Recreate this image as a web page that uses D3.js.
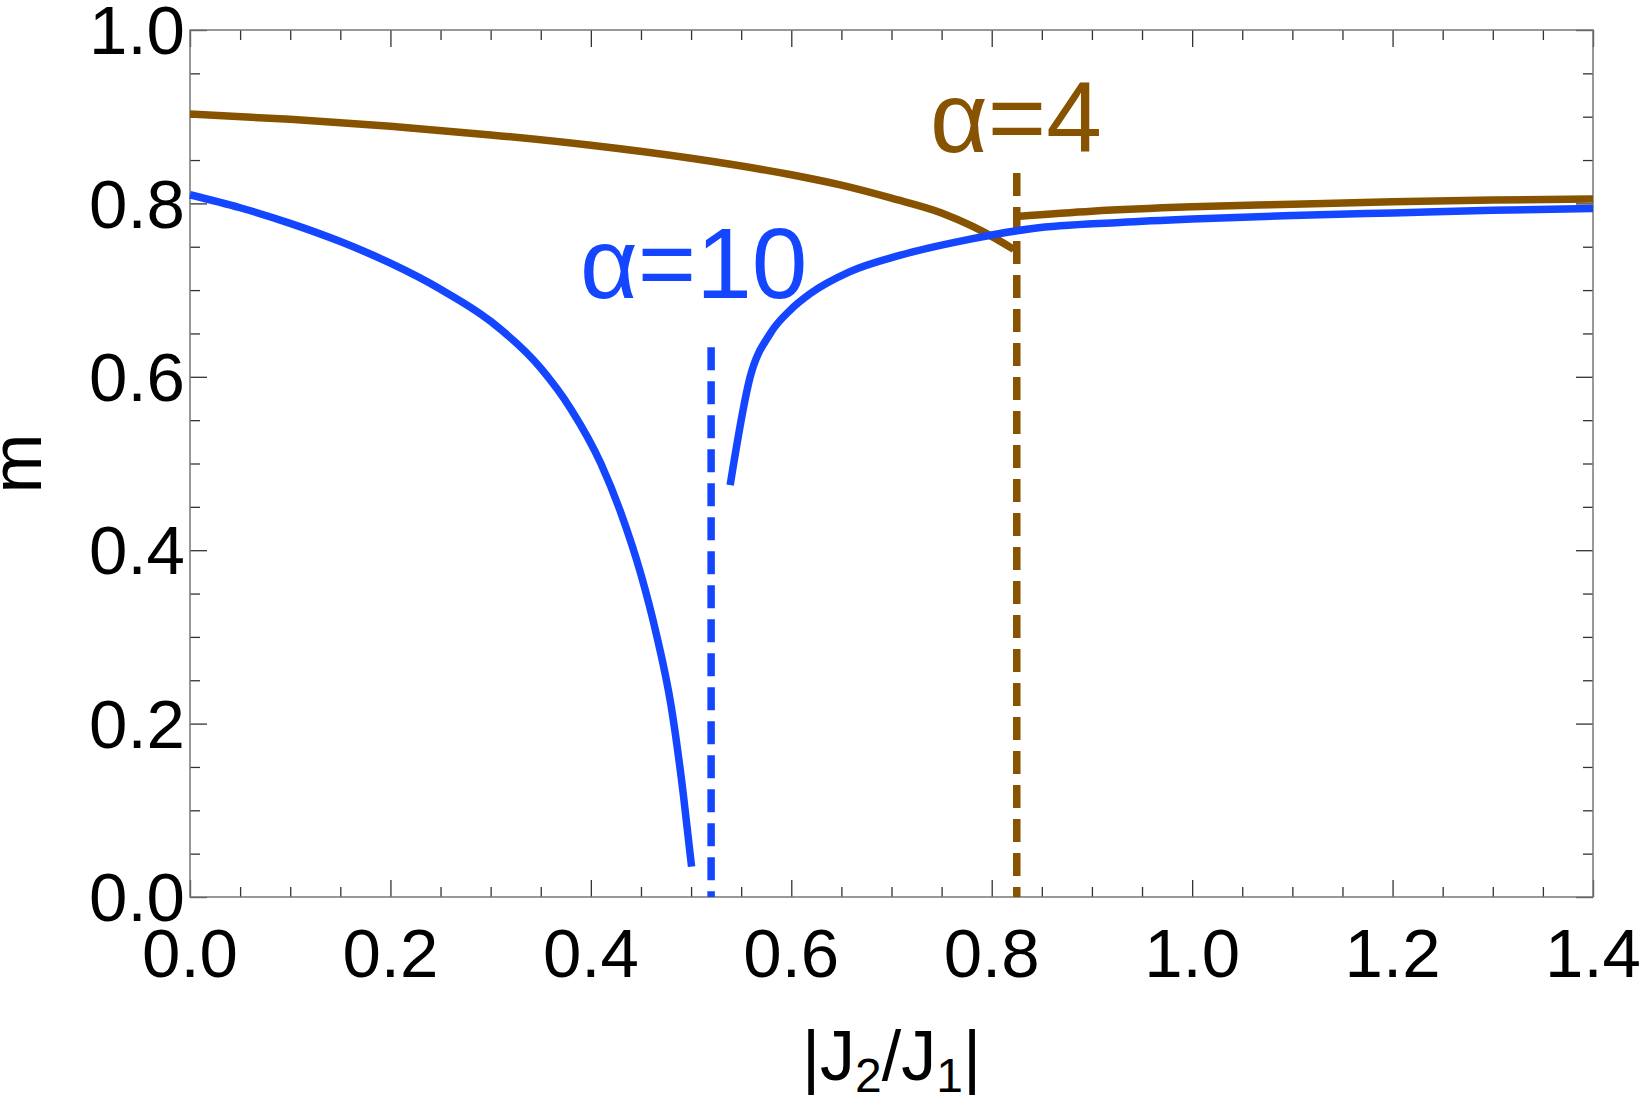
<!DOCTYPE html>
<html>
<head>
<meta charset="utf-8">
<script src="https://cdn.jsdelivr.net/npm/d3@7"></script>
<style>
  body { margin: 0; background: #fff; }
  text { font-family: "Liberation Sans", Arial, sans-serif; }
</style>
</head>
<body>
<script>
// data
var xMajor = [0, 0.2, 0.4, 0.6, 0.8, 1.0, 1.2, 1.4];
var yMajor = [0, 0.2, 0.4, 0.6, 0.8, 1.0];

// alpha = 4 (brown)
var a4LeftX  = [0, 0.1, 0.2, 0.3, 0.4, 0.5, 0.6, 0.65, 0.7, 0.75, 0.78, 0.8, 0.822];
var a4LeftM  = [0.903, 0.897, 0.889, 0.879, 0.867, 0.852, 0.833, 0.821, 0.806, 0.789, 0.774, 0.762, 0.747];
var a4RightX = [0.825, 0.9, 1.0, 1.1, 1.2, 1.3, 1.4];
var a4RightM = [0.785, 0.791, 0.796, 0.799, 0.802, 0.804, 0.805];
var a4Crit = 0.825, a4DashTop = 0.835;

// alpha = 10 (blue)
var a10LeftX  = [0, 0.05, 0.1, 0.15, 0.2, 0.25, 0.3, 0.35, 0.38, 0.41, 0.43, 0.45, 0.465, 0.48, 0.492, 0.5005];
var a10LeftM  = [0.810, 0.795, 0.777, 0.756, 0.731, 0.701, 0.664, 0.610, 0.563, 0.500, 0.443, 0.372, 0.305, 0.221, 0.121, 0.035];
var a10RightX = [0.539, 0.559, 0.579, 0.599, 0.619, 0.658, 0.708, 0.775, 0.841, 0.928, 1.0, 1.1, 1.2, 1.3, 1.4];
var a10RightM = [0.475, 0.600, 0.650, 0.677, 0.696, 0.721, 0.740, 0.758, 0.771, 0.778, 0.782, 0.786, 0.789, 0.792, 0.794];
var a10Crit = 0.52, a10DashTop = 0.634;

var blue = "#1446ff", brown = "#875300";

var W = 1648, H = 1099;
var plotL = 190, plotR = 1593, plotT = 30, plotB = 897;

var svg = d3.select("body").append("svg")
            .attr("width", W)
            .attr("height", H);

var x = d3.scaleLinear().domain([0, 1.4]).range([plotL, plotR]);
var y = d3.scaleLinear().domain([0, 1.0]).range([plotB, plotT]);

var xMinor = d3.range(0, 1.4001, 0.05).filter(function(d){ return Math.abs(d*5 - Math.round(d*5)) > 1e-6; });
var yMinor = d3.range(0, 1.0001, 0.05).filter(function(d){ return Math.abs(d*5 - Math.round(d*5)) > 1e-6; });

function frameAxis(g, axis){
  g.call(axis);
  g.select(".domain").remove();
  g.selectAll(".tick line").attr("stroke", "#333").attr("stroke-width", 1.3);
}

// bottom
svg.append("g").attr("transform", "translate(0," + plotB + ")")
   .call(frameAxis, d3.axisBottom(x).tickValues(xMajor).tickSize(-17).tickFormat(""));
svg.append("g").attr("transform", "translate(0," + plotB + ")")
   .call(frameAxis, d3.axisBottom(x).tickValues(xMinor).tickSize(-10).tickFormat(""));
// top
svg.append("g").attr("transform", "translate(0," + plotT + ")")
   .call(frameAxis, d3.axisTop(x).tickValues(xMajor).tickSize(-17).tickFormat(""));
svg.append("g").attr("transform", "translate(0," + plotT + ")")
   .call(frameAxis, d3.axisTop(x).tickValues(xMinor).tickSize(-10).tickFormat(""));
// left
svg.append("g").attr("transform", "translate(" + plotL + ",0)")
   .call(frameAxis, d3.axisLeft(y).tickValues(yMajor).tickSize(-17).tickFormat(""));
svg.append("g").attr("transform", "translate(" + plotL + ",0)")
   .call(frameAxis, d3.axisLeft(y).tickValues(yMinor).tickSize(-10).tickFormat(""));
// right
svg.append("g").attr("transform", "translate(" + plotR + ",0)")
   .call(frameAxis, d3.axisRight(y).tickValues(yMajor).tickSize(-17).tickFormat(""));
svg.append("g").attr("transform", "translate(" + plotR + ",0)")
   .call(frameAxis, d3.axisRight(y).tickValues(yMinor).tickSize(-10).tickFormat(""));

// frame
svg.append("rect")
   .attr("x", plotL).attr("y", plotT)
   .attr("width", plotR - plotL).attr("height", plotB - plotT)
   .attr("fill", "none").attr("stroke", "#777").attr("stroke-width", 1.5);

// tick labels
svg.selectAll("text.xl").data(xMajor).enter().append("text")
   .attr("class", "xl")
   .attr("x", function(d){ return x(d); })
   .attr("y", 977)
   .attr("text-anchor", "middle")
   .attr("font-size", 69)
   .text(function(d){ return d3.format(".1f")(d); });

svg.selectAll("text.yl").data(yMajor).enter().append("text")
   .attr("class", "yl")
   .attr("x", plotL - 5)
   .attr("y", function(d){ return y(d); })
   .attr("dy", "0.35em")
   .attr("text-anchor", "end")
   .attr("font-size", 69)
   .text(function(d){ return d3.format(".1f")(d); });

// axis titles
var xt = svg.append("text")
   .attr("x", (plotL + plotR) / 2)
   .attr("y", 1080)
   .attr("text-anchor", "middle")
   .attr("font-size", 70);
xt.append("tspan").text("|J");
xt.append("tspan").attr("font-size", 48).attr("dy", 12).text("2");
xt.append("tspan").attr("dy", -12).text("/J");
xt.append("tspan").attr("font-size", 48).attr("dy", 12).text("1");
xt.append("tspan").attr("dy", -12).text("|");

svg.append("text")
   .attr("transform", "translate(41," + ((plotT + plotB) / 2) + ") rotate(-90)")
   .attr("text-anchor", "middle")
   .attr("font-size", 72)
   .text("m");

// curves
var smooth = d3.line()
   .x(function(d){ return x(d[0]); })
   .y(function(d){ return y(d[1]); })
   .curve(d3.curveMonotoneX);

function drawCurve(xs, ms, color){
  svg.append("path")
     .datum(d3.zip(xs, ms))
     .attr("d", smooth)
     .attr("fill", "none")
     .attr("stroke", color)
     .attr("stroke-width", 7.5)
     .attr("stroke-linejoin", "round");
}

function drawDash(xc, topVal, color){
  svg.append("line")
     .attr("x1", x(xc)).attr("x2", x(xc))
     .attr("y1", y(topVal)).attr("y2", y(0))
     .attr("stroke", color)
     .attr("stroke-width", 7.5)
     .attr("stroke-dasharray", "23,11");
}

drawCurve(a4LeftX, a4LeftM, brown);
drawCurve(a4RightX, a4RightM, brown);
drawDash(a4Crit, a4DashTop, brown);

drawCurve(a10LeftX, a10LeftM, blue);
drawCurve(a10RightX, a10RightM, blue);
drawDash(a10Crit, a10DashTop, blue);

// labels
svg.append("text")
   .attr("x", 580).attr("y", 298)
   .attr("font-size", 100)
   .attr("fill", blue)
   .text("α=10");

svg.append("text")
   .attr("x", 930).attr("y", 152)
   .attr("font-size", 100)
   .attr("fill", brown)
   .text("α=4");
</script>
</body>
</html>
